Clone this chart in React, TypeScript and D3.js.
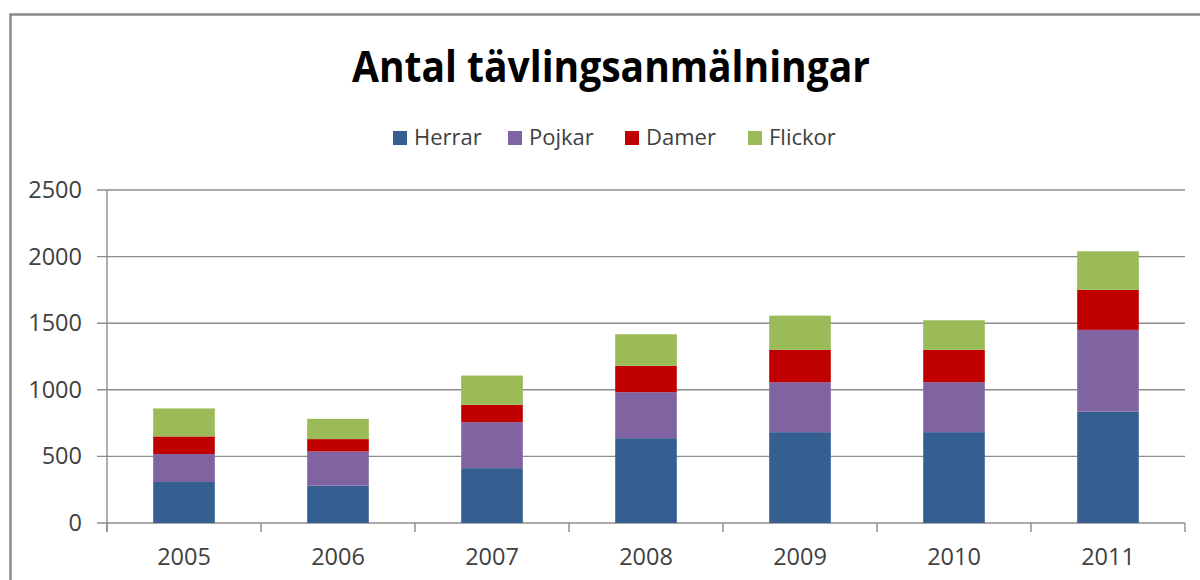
import React from "react";
import * as d3 from "d3";

const years = ["2005", "2006", "2007", "2008", "2009", "2010", "2011"];
const seriesNames = ["Herrar", "Pojkar", "Damer", "Flickor"];
const herrar = [308, 280, 412, 637, 682, 682, 837];
const pojkar = [210, 257, 345, 345, 375, 375, 613];
const damer = [132, 93, 130, 198, 243, 243, 300];
const flickor = [210, 152, 220, 237, 257, 222, 290];
const yTicks = [0, 500, 1000, 1500, 2000, 2500];
const colors = ["#365F91", "#8064A2", "#C00000", "#9BBB59"];
const title = "Antal tävlingsanmälningar";

const W = 1200;
const H = 580;
const left = 107;
const right = 1185;
const top = 190;
const bottom = 523;
const font = "'Open Sans', sans-serif";

export default function App() {
  const table = years.map((y, i) => ({
    year: y,
    Herrar: herrar[i],
    Pojkar: pojkar[i],
    Damer: damer[i],
    Flickor: flickor[i],
  }));
  const stacked = d3.stack<any>().keys(seriesNames)(table);
  const x = d3
    .scaleBand<string>()
    .domain(years)
    .range([left, right])
    .paddingInner(0.6)
    .paddingOuter(0.3);
  const y = d3.scaleLinear().domain([0, 2500]).range([bottom, top]);
  const step = x.step();
  const boundaries = d3.range(years.length + 1).map((i) => left + i * step);

  const legendX = [393, 508, 625, 748];

  return (
    <svg
      width={W}
      height={H}
      style={{ position: "absolute", left: 0, top: 0, background: "#fff" }}
    >
      <rect x={0} y={0} width={W} height={H} fill="#fff" />
      <rect
        x={10.5}
        y={14.5}
        width={W + 20}
        height={H + 20}
        fill="#fff"
        stroke="#8a8a8a"
        strokeWidth={2.5}
      />
      <text
        x={611}
        y={82}
        textAnchor="middle"
        fontFamily={font}
        fontWeight={700}
        fontSize={43}
        fill="#000"
        textLength={518}
        lengthAdjust="spacingAndGlyphs"
      >
        {title}
      </text>
      {seriesNames.map((s, i) => (
        <g key={s}>
          <rect x={legendX[i]} y={131} width={14} height={14} fill={colors[i]} />
          <text
            x={legendX[i] + 21}
            y={145}
            fontFamily={font}
            fontSize={22}
            fill="#404040"
          >
            {s}
          </text>
        </g>
      ))}
      {yTicks.map((t) => (
        <g key={t}>
          <line
            x1={97}
            x2={right}
            y1={y(t)}
            y2={y(t)}
            stroke="#8c8c8c"
            strokeWidth={1.4}
          />
          <text
            x={82}
            y={y(t) + 8}
            textAnchor="end"
            fontFamily={font}
            fontSize={23.5}
            fill="#404040"
          >
            {t}
          </text>
        </g>
      ))}
      <line x1={left} x2={left} y1={top} y2={bottom + 9} stroke="#8c8c8c" strokeWidth={1.4} />
      {boundaries.map((b, i) => (
        <line
          key={i}
          x1={b}
          x2={b}
          y1={bottom}
          y2={bottom + 9}
          stroke="#8c8c8c"
          strokeWidth={1.4}
        />
      ))}
      {stacked.map((layer, si) => (
        <g key={layer.key} fill={colors[si]}>
          {layer.map((d, i) => (
            <rect
              key={i}
              x={x(years[i])}
              width={x.bandwidth()}
              y={y(d[1])}
              height={y(d[0]) - y(d[1])}
            />
          ))}
        </g>
      ))}
      {years.map((yr) => (
        <text
          key={yr}
          x={(x(yr) as number) + x.bandwidth() / 2}
          y={565}
          textAnchor="middle"
          fontFamily={font}
          fontSize={23.5}
          fill="#404040"
        >
          {yr}
        </text>
      ))}
    </svg>
  );
}
